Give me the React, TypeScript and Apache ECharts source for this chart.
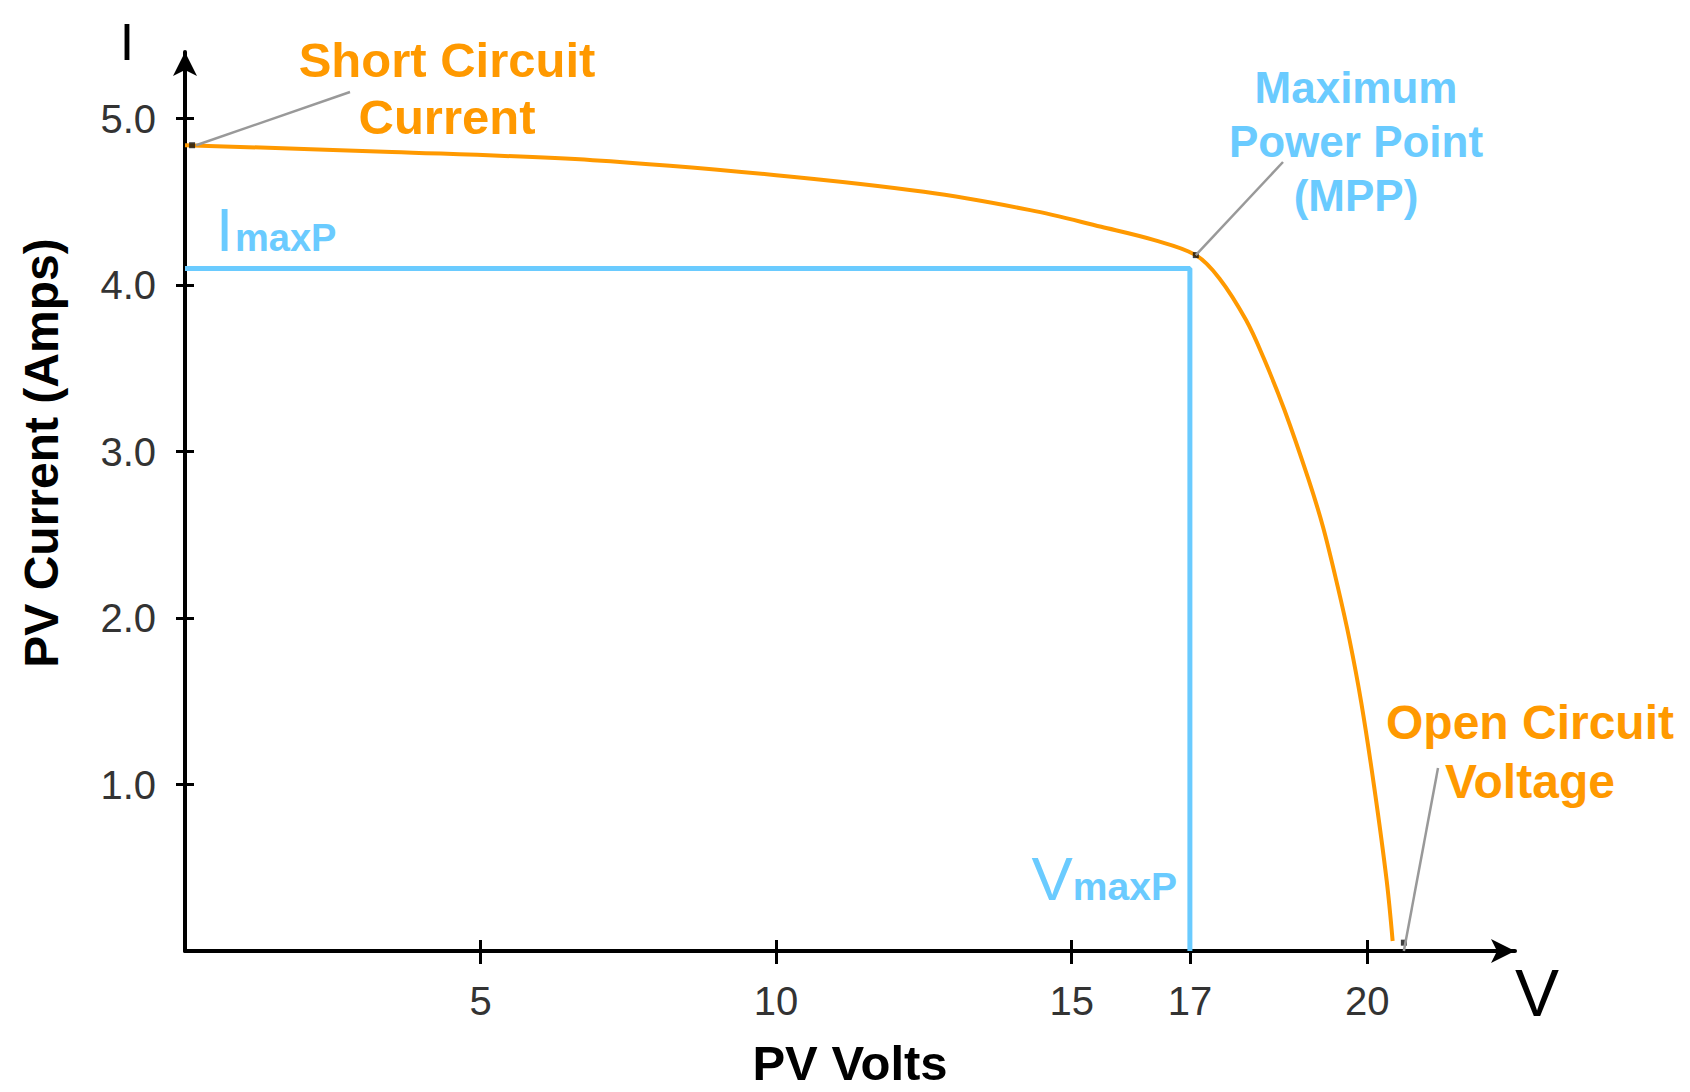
import React, { useEffect, useRef } from "react";
import * as echarts from "echarts";

// ---- data ----
const pvVolts = [0, 3.5, 6.9, 10, 12.5, 14.3, 15.5, 16.4, 17.1, 17.5, 17.95, 18.25, 18.6, 19.0, 19.25, 19.5, 19.7, 19.9, 20.12, 20.33, 20.43];
const pvAmps = [4.84, 4.8, 4.75, 4.66, 4.56, 4.45, 4.35, 4.27, 4.18, 4.04, 3.79, 3.56, 3.25, 2.84, 2.55, 2.19, 1.87, 1.49, 0.98, 0.42, 0.06];
const xTicks = [5, 10, 15, 17, 20];
const yTicks = [1, 2, 3, 4, 5];
const vMaxP = 17;
const iMaxP = 4.1;
const iscAmps = 4.84;
const kneePoint = [17.1, 4.18];
const vocFootVolts = 20.62;
const xMax = 22.5;
const yMax = 5.4;

const FONT = '"Liberation Sans", Arial, Helvetica, sans-serif';
const ORANGE = "#FF9900";
const BLUE = "#6ACBFF";

export default function App() {
  const ref = useRef<HTMLDivElement>(null);
  useEffect(() => {
    document.body.style.margin = "0";
    const chart = echarts.init(ref.current!, null, { renderer: "svg" });

    const tickStyle = { color: "#000", width: 3 };
    const xBase: any = { type: "value", min: 0, max: xMax, position: "bottom", splitLine: { show: false } };
    const yBase: any = { type: "value", min: 0, max: yMax, position: "left", splitLine: { show: false } };

    const option: any = {
      animation: false,
      backgroundColor: "#fff",
      grid: { left: 185, right: 175, top: 52, bottom: 141, containLabel: false, outerBoundsMode: "none" },
      xAxis: [
        {
          ...xBase,
          axisLine: { show: true, lineStyle: { color: "#000", width: 4 }, symbol: ["none", "arrow"], symbolSize: [18, 24] },
          axisTick: { show: true, customValues: xTicks, length: 13, lineStyle: tickStyle },
          axisLabel: { show: true, customValues: xTicks, fontSize: 40, color: "#333", fontFamily: FONT, margin: 30 },
          name: "PV Volts",
          nameLocation: "middle",
          nameGap: 94,
          nameTextStyle: { fontSize: 49, fontWeight: "bold", color: "#000", fontFamily: FONT, lineHeight: 36 },
        },
        {
          ...xBase,
          axisLine: { show: false },
          axisTick: { show: true, inside: true, customValues: xTicks, length: 11, lineStyle: tickStyle },
          axisLabel: { show: false },
        },
      ],
      yAxis: [
        {
          ...yBase,
          axisLine: { show: true, lineStyle: { color: "#000", width: 4 }, symbol: ["none", "arrow"], symbolSize: [18, 24] },
          axisTick: { show: true, customValues: yTicks, length: 9, lineStyle: tickStyle },
          axisLabel: {
            show: true,
            customValues: yTicks,
            fontSize: 40,
            color: "#333",
            fontFamily: FONT,
            margin: 29,
            formatter: (v: number) => v.toFixed(1),
          },
        },
        {
          ...yBase,
          axisLine: { show: false },
          axisTick: { show: true, inside: true, customValues: yTicks, length: 9, lineStyle: tickStyle },
          axisLabel: { show: false },
        },
      ],
      series: [
        {
          name: "MPP guides",
          type: "line",
          xAxisIndex: 0,
          yAxisIndex: 0,
          data: [[0, iMaxP], [vMaxP, iMaxP], [vMaxP, 0]],
          showSymbol: false,
          lineStyle: { color: BLUE, width: 5 },
          z: 2,
        },
        {
          name: "I-V curve",
          type: "line",
          xAxisIndex: 0,
          yAxisIndex: 0,
          data: pvVolts.map((v, i) => [v, pvAmps[i]]),
          showSymbol: false,
          smooth: 0.35,
          lineStyle: { color: ORANGE, width: 4 },
          z: 3,
        },
        {
          name: "points",
          type: "scatter",
          xAxisIndex: 0,
          yAxisIndex: 0,
          data: [[0.12, iscAmps], kneePoint, [vocFootVolts, 0.05]],
          symbol: "rect",
          symbolSize: 6,
          itemStyle: { color: "#111" },
          z: 4,
        },
      ],
    };
    chart.setOption(option);

    const px = (x: number, y: number) => chart.convertToPixel({ gridIndex: 0 }, [x, y]) as number[];
    const isc = px(0.12, iscAmps);
    const knee = px(kneePoint[0], kneePoint[1]);
    const voc = px(vocFootVolts, 0);
    const [ox] = px(0, 0);
    const [vx] = px(vMaxP, 0);
    const [, iy] = px(0, iMaxP);

    const txt = (x: number, y: number, text: string, size: number, color: string, bold: boolean, extra: any = {}) => ({
      type: "text",
      x,
      y,
      z: 10,
      ...extra,
      style: {
        text,
        fill: color,
        fontSize: size,
        fontWeight: bold ? "bold" : "normal",
        fontFamily: FONT,
        align: "center",
        verticalAlign: "middle",
        ...(extra.style || {}),
      },
    });
    const leader = (x1: number, y1: number, x2: number, y2: number) => ({
      type: "line",
      z: 9,
      shape: { x1, y1, x2, y2 },
      style: { stroke: "#999", lineWidth: 2.5 },
    });

    const bigI = 62;
    const subI = 38;
    const iBase = iy - 17;
    const bigV = 62;
    const subV = 39;
    const vBase = 900;
    const vRight = vx - 13;
    const vSubW = 2.668 * subV;
    const vBigW = 0.667 * bigV;

    chart.setOption({
      graphic: [
        leader(isc[0] + 4, isc[1], 350, 92),
        leader(knee[0], knee[1], 1283, 162),
        leader(voc[0], voc[1], 1438, 768),
        txt(127, 42, "I", 52, "#000", false),
        txt(1537, 993, "V", 66, "#000", false),
        txt(41, 453, "PV Current (Amps)", 48, "#000", true, { rotation: Math.PI / 2 }),
        txt(447, 88, "Short Circuit\nCurrent", 49, ORANGE, true, { style: { lineHeight: 57 } }),
        txt(1356, 141, "Maximum\nPower Point\n(MPP)", 44, BLUE, true, { style: { lineHeight: 54 } }),
        txt(1530, 752, "Open Circuit\nVoltage", 48, ORANGE, true, { style: { lineHeight: 59 } }),
        txt(ox + 31, iBase - 0.3465 * bigI, "I", bigI, BLUE, false, { style: { align: "left" } }),
        txt(ox + 50, iBase - 0.3465 * subI, "maxP", subI, BLUE, true, { style: { align: "left" } }),
        txt(vRight - vSubW - vBigW, vBase - 0.3465 * bigV, "V", bigV, BLUE, false, { style: { align: "left" } }),
        txt(vRight - vSubW, vBase - 0.3465 * subV, "maxP", subV, BLUE, true, { style: { align: "left" } }),
      ],
    });

    return () => chart.dispose();
  }, []);
  return <div ref={ref} style={{ width: 1690, height: 1092 }} />;
}
